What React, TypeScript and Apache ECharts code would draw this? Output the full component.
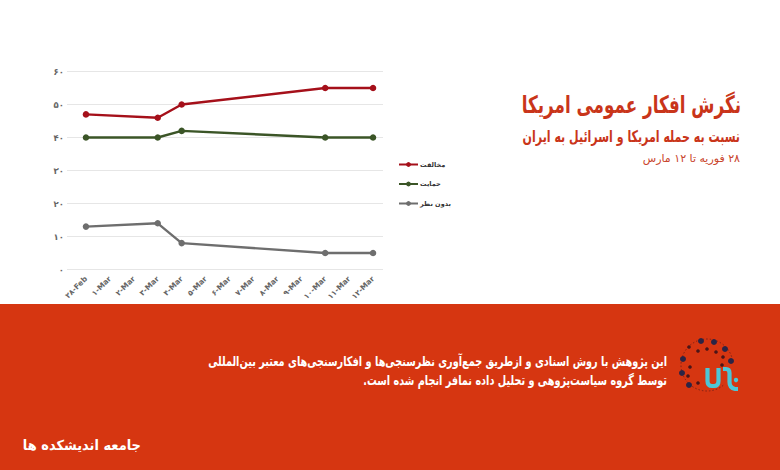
import React, { useEffect, useRef } from "react";
import * as echarts from "echarts";

const categories = ["۲۸-Feb", "۱-Mar", "۲-Mar", "۳-Mar", "۴-Mar", "۵-Mar", "۶-Mar", "۷-Mar", "۸-Mar", "۹-Mar", "۱۰-Mar", "۱۱-Mar", "۱۲-Mar"];
const oppose = [47, null, null, 46, 50, null, null, null, null, null, 55, null, 55];
const support = [40, null, null, 40, 42, null, null, null, null, null, 40, null, 40];
const noOpinion = [13, null, null, 14, 8, null, null, null, null, null, 5, null, 5];
const seriesNames = ["مخالفت", "حمایت", "بدون نظر"];
const seriesColors = ["#A5101A", "#3B5527", "#6E6E6E"];
const yTicks: Record<string, string> = { 0: "۰", 10: "۱۰", 20: "۲۰", 30: "۳۰", 40: "۴۰", 50: "۵۰", 60: "۶۰" };
const title = "نگرش افکار عمومی امریکا";
const subtitle = "نسبت به حمله امریکا و اسرائیل به ایران";
const dateLine = "۲۸ فوریه تا ۱۲ مارس";
const note1 = "این پژوهش با روش اسنادی و ازطریق جمع‌آوری نظرسنجی‌ها و افکارسنجی‌های معتبر بین‌المللی";
const note2 = "توسط گروه سیاست‌پژوهی و تحلیل داده نمافر انجام شده است.";
const brand = "جامعه اندیشکده ها";

const FONT = "'DejaVu Sans', 'Noto Sans', sans-serif";
const RED = "#D63611";
const RLM = "\u200F";

const outerDots = [[701, 341], [714, 342], [725, 349], [731, 361], [683, 359], [682, 373], [689, 385]];
const innerDots = [[689, 347], [698, 351], [707, 349], [716, 352], [723, 357], [690, 367], [688, 376], [698, 383], [722, 365]];

echarts.graphic.registerShape(
  "namafarMark",
  echarts.graphic.extendPath(
    "M707.5 368 L707.5 381 Q707.5 386 712 386 L714 386 Q718.5 386 718.5 381 L718.5 368 M723 369 L726 369 Q729.5 369 729.5 373 L729.5 382 Q729.5 388 735 389 L738 389",
    {}
  )
);

const rtlText = (x: number, y: number, sx: number, text: string, fill: string, font: string) => ({
  type: "text",
  z: 2,
  x,
  y,
  scaleX: sx,
  style: { x: 0, y: 0, text: RLM + text + RLM, align: "right", verticalAlign: "middle", fill, font },
});

export default function App() {
  const ref = useRef<HTMLDivElement>(null);
  useEffect(() => {
    document.body.style.margin = "0";
    const chart = echarts.init(ref.current!, null, { renderer: "svg" });
    const mk = (i: number, data: (number | null)[]) => ({
      name: seriesNames[i],
      type: "line",
      xAxisIndex: 1,
      yAxisIndex: 1,
      data,
      connectNulls: true,
      symbol: "circle",
      symbolSize: 6.5,
      lineStyle: { color: seriesColors[i], width: 2.4 },
      itemStyle: { color: seriesColors[i] },
    });
    chart.setOption({
      animation: false,
      backgroundColor: "#ffffff",
      textStyle: { fontFamily: FONT },
      grid: [
        { left: 67, right: 397, top: 71.5, bottom: 200.5 },
        { left: 74, right: 395, top: 71.5, bottom: 200.5 },
      ],
      legend: {
        orient: "vertical",
        left: 398,
        top: 161,
        padding: 0,
        itemGap: 12.5,
        itemWidth: 19,
        itemHeight: 6,
        data: seriesNames,
        textStyle: { fontFamily: FONT, fontSize: 6.5, fontWeight: "bold", color: "#333333", padding: [0, 0, 0, -3] },
      },
      xAxis: [
        { type: "category", gridIndex: 0, show: false, data: categories },
        {
          type: "category",
          gridIndex: 1,
          data: categories,
          axisLine: { show: false },
          axisTick: { show: false },
          axisLabel: { rotate: 45, fontSize: 7.5, fontWeight: "bold", color: "#666666", interval: 0, margin: 8 },
        },
      ],
      yAxis: [
        {
          type: "value",
          gridIndex: 0,
          min: 0,
          max: 60,
          interval: 10,
          axisLine: { show: false },
          axisTick: { show: false },
          splitLine: { lineStyle: { color: "#E6E6E6", width: 1 } },
          axisLabel: { fontSize: 8.5, fontWeight: "bold", color: "#666666", margin: 3, formatter: (v: number) => yTicks[v] },
        },
        { type: "value", gridIndex: 1, show: false, min: 0, max: 60, interval: 10, splitLine: { show: false } },
      ],
      series: [mk(0, oppose), mk(1, support), mk(2, noOpinion)],
      graphic: [
        { type: "rect", z: 1, shape: { x: 0, y: 304, width: 780, height: 166 }, style: { fill: RED } },
        rtlText(741, 105, 0.7, title, "#C9351A", `bold 24px ${FONT}`),
        rtlText(740, 136, 0.69, subtitle, "#C9351A", `bold 16px ${FONT}`),
        rtlText(740, 158, 1, dateLine, "#C9452C", `11px ${FONT}`),
        rtlText(667, 361, 0.72, note1, "#ffffff", `bold 13.5px ${FONT}`),
        rtlText(667, 380, 0.72, note2, "#ffffff", `bold 13.5px ${FONT}`),
        rtlText(141, 445, 0.93, brand, "#ffffff", `bold 14px ${FONT}`),
        { type: "arc", z: 2, shape: { cx: 707, cy: 365, r: 26, startAngle: 0.9, endAngle: 6.0 }, style: { fill: "none", stroke: "#5A1A1A", lineWidth: 0.7, lineDash: [1.5, 2] } },
        ...outerDots.map(([cx, cy]) => ({ type: "circle", z: 2, shape: { cx, cy, r: 3 }, style: { fill: "#2B2445" } })),
        ...innerDots.map(([cx, cy]) => ({ type: "circle", z: 2, shape: { cx, cy, r: 1.8 }, style: { fill: "#4A1518" } })),
        { type: "namafarMark", z: 3, style: { fill: "none", stroke: "#4CC6D6", lineWidth: 4.2 } },
        { type: "circle", z: 3, shape: { cx: 736, cy: 380, r: 2.2 }, style: { fill: "#4CC6D6" } },
      ],
    });
    return () => chart.dispose();
  }, []);
  return <div ref={ref} style={{ width: 780, height: 470 }} />;
}
